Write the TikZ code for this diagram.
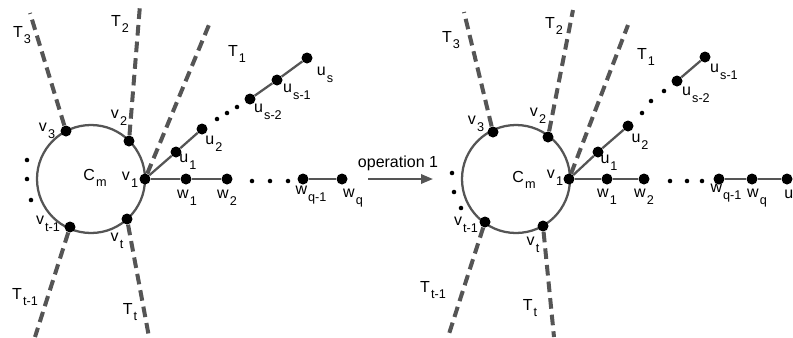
\documentclass[tikz,border=0pt]{standalone}
\usepackage{fontspec}
\setmainfont{Liberation Sans}
\usetikzlibrary{arrows.meta}
\definecolor{lg}{HTML}{555555}
\newcommand\sbs[1]{\kern0.8pt\raisebox{-5pt}{\fontsize{9.5}{10}\selectfont #1}}
\begin{document}
\begin{tikzpicture}[x=0.75pt,y=-0.75pt,font=\fontsize{12}{14}\selectfont,
  dot/.style={circle,fill=black,inner sep=0pt,minimum size=8.25pt},
  sdot/.style={circle,fill=black,inner sep=0pt,minimum size=3.4pt},
  lbl/.style={inner sep=0pt},
  edge/.style={draw=lg,line width=1.7pt},
  tdash/.style={draw=lg,line width=3pt,dash pattern=on 8pt off 4.5pt},
  ring/.style={circle,draw=lg,line width=1.7pt,inner sep=0pt,minimum size=81pt}]
\useasboundingbox (0,0) rectangle (793,337);

% ---------------- left figure ----------------
\node[ring] (CmL) at (91,179) {};
\coordinate (T3eL) at (30,13);
\coordinate (T2eL) at (140,5);
\coordinate (T1eL) at (211,20);
\coordinate (Tt1eL) at (35,337);
\coordinate (TteL) at (149,337);
\node[dot] (v1L) at (145,179) {};
\node[dot] (v2L) at (129,141) {};
\node[dot] (v3L) at (66,131) {};
\node[dot] (vt1L) at (70,227) {};
\node[dot] (vtL) at (127,219) {};
\node[dot] (u1L) at (176,152) {};
\node[dot] (u2L) at (202,129) {};
\node[dot] (us2L) at (250,99) {};
\node[dot] (us1L) at (277,80) {};
\node[dot] (usL) at (307,58) {};
\node[dot] (w1L) at (186,179) {};
\node[dot] (w2L) at (227,179) {};
\node[dot] (wq1L) at (303,179) {};
\node[dot] (wqL) at (342,179) {};
\node[sdot] (da1L) at (217,119) {};
\node[sdot] (da2L) at (227,113) {};
\node[sdot] (da3L) at (237,107) {};
\node[sdot] (db1L) at (252,181) {};
\node[sdot] (db2L) at (270,181) {};
\node[sdot] (db3L) at (288,181) {};
\node[sdot] (dc1L) at (27,160) {};
\node[sdot] (dc2L) at (27,179) {};
\node[sdot] (dc3L) at (31,200) {};

\draw[tdash] (v3L) -- (T3eL);
\draw[tdash] (v2L) -- (T2eL);
\draw[tdash] (v1L) -- (T1eL);
\draw[tdash] (vt1L) -- (Tt1eL);
\draw[tdash] (vtL) -- (TteL);
\draw[edge] (v1L) -- (u1L);
\draw[edge] (u1L) -- (u2L);
\draw[edge] (us2L) -- (us1L);
\draw[edge] (us1L) -- (usL);
\draw[edge] (v1L) -- (w1L);
\draw[edge] (w1L) -- (w2L);
\draw[edge] (wq1L) -- (wqL);

\node[lbl] (lT3L) at (22,35) {T\sbs{3}};
\node[lbl] (lT2L) at (120,24) {T\sbs{2}};
\node[lbl] (lT1L) at (237,54) {T\sbs{1}};
\node[lbl] (lusL) at (325,75) {u\sbs{s}};
\node[lbl] (lus1L) at (297,92) {u\sbs{s-1}};
\node[lbl] (lus2L) at (268,112) {u\sbs{s-2}};
\node[lbl] (lu2L) at (214,144) {u\sbs{2}};
\node[lbl] (lu1L) at (188,162) {u\sbs{1}};
\node[lbl] (lv2L) at (119,118) {v\sbs{2}};
\node[lbl] (lv3L) at (47,131) {v\sbs{3}};
\node[lbl] (lCmL) at (95,178) {C\sbs{m}};
\node[lbl] (lv1L) at (130,180) {v\sbs{1}};
\node[lbl] (lw1L) at (187,198) {w\sbs{1}};
\node[lbl] (lw2L) at (227,198) {w\sbs{2}};
\node[lbl] (lwq1L) at (311,195) {w\sbs{q-1}};
\node[lbl] (lwqL) at (353,198) {w\sbs{q}};
\node[lbl] (lvt1L) at (48,224) {v\sbs{t-1}};
\node[lbl] (lvtL) at (117,241) {v\sbs{t}};
\node[lbl] (lTt1L) at (25,297) {T\sbs{t-1}};
\node[lbl] (lTtL) at (130,312) {T\sbs{t}};

% ---------------- arrow ----------------
\coordinate (arS) at (368,179);
\coordinate (arE) at (433,179);
\draw[draw=lg,line width=1.7pt,-{Triangle[length=9pt,width=7pt]}] (arS) -- (arE);
\node[lbl] (op) at (398,163) {operation 1};

% ---------------- right figure ----------------
\node[ring] (CmR) at (516,179) {};
\coordinate (T3eR) at (464,12);
\coordinate (T2eR) at (573,10);
\coordinate (T1eR) at (628,25);
\coordinate (Tt1eR) at (448,337);
\coordinate (TteR) at (554,337);
\node[dot] (v1R) at (569,179) {};
\node[dot] (v2R) at (548,137) {};
\node[dot] (v3R) at (493,132) {};
\node[dot] (vt1R) at (485,222) {};
\node[dot] (vtR) at (543,226) {};
\node[dot] (u1R) at (598,152) {};
\node[dot] (u2R) at (628,126) {};
\node[dot] (us2R) at (677,81) {};
\node[dot] (us1R) at (705,57) {};
\node[dot] (w1R) at (607,179) {};
\node[dot] (w2R) at (644,179) {};
\node[dot] (wq1R) at (719,179) {};
\node[dot] (wqR) at (752,179) {};
\node[dot] (uR) at (787,179) {};
\node[sdot] (da1R) at (642,113) {};
\node[sdot] (da2R) at (651,101) {};
\node[sdot] (da3R) at (664,91) {};
\node[sdot] (db1R) at (670,181) {};
\node[sdot] (db2R) at (687,181) {};
\node[sdot] (db3R) at (702,181) {};
\node[sdot] (dc1R) at (452,173) {};
\node[sdot] (dc2R) at (454,192) {};
\node[sdot] (dc3R) at (461,208) {};

\draw[tdash] (v3R) -- (T3eR);
\draw[tdash] (v2R) -- (T2eR);
\draw[tdash] (v1R) -- (T1eR);
\draw[tdash] (vt1R) -- (Tt1eR);
\draw[tdash] (vtR) -- (TteR);
\draw[edge] (v1R) -- (u1R);
\draw[edge] (u1R) -- (u2R);
\draw[edge] (us2R) -- (us1R);
\draw[edge] (v1R) -- (w1R);
\draw[edge] (w1R) -- (w2R);
\draw[edge] (wq1R) -- (wqR);
\draw[edge] (wqR) -- (uR);

\node[lbl] (lT3R) at (451,40) {T\sbs{3}};
\node[lbl] (lT2R) at (554,26) {T\sbs{2}};
\node[lbl] (lT1R) at (646,57) {T\sbs{1}};
\node[lbl] (lus1R) at (724,72) {u\sbs{s-1}};
\node[lbl] (lus2R) at (696,95) {u\sbs{s-2}};
\node[lbl] (lu2R) at (640,142) {u\sbs{2}};
\node[lbl] (lu1R) at (609,163) {u\sbs{1}};
\node[lbl] (lv2R) at (538,116) {v\sbs{2}};
\node[lbl] (lv3R) at (476,124) {v\sbs{3}};
\node[lbl] (lCmR) at (524,180) {C\sbs{m}};
\node[lbl] (lv1R) at (555,178) {v\sbs{1}};
\node[lbl] (lw1R) at (607,197) {w\sbs{1}};
\node[lbl] (lw2R) at (644,197) {w\sbs{2}};
\node[lbl] (lwq1R) at (726,193) {w\sbs{q-1}};
\node[lbl] (lwqR) at (757,198) {w\sbs{q}};
\node[lbl,anchor=west] (luR) at (784,194) {u};
\node[lbl] (lvt1R) at (466,225) {v\sbs{t-1}};
\node[lbl] (lvtR) at (533,245) {v\sbs{t}};
\node[lbl] (lTt1R) at (433,290) {T\sbs{t-1}};
\node[lbl] (lTtR) at (530,308) {T\sbs{t}};
\end{tikzpicture}
\end{document}
